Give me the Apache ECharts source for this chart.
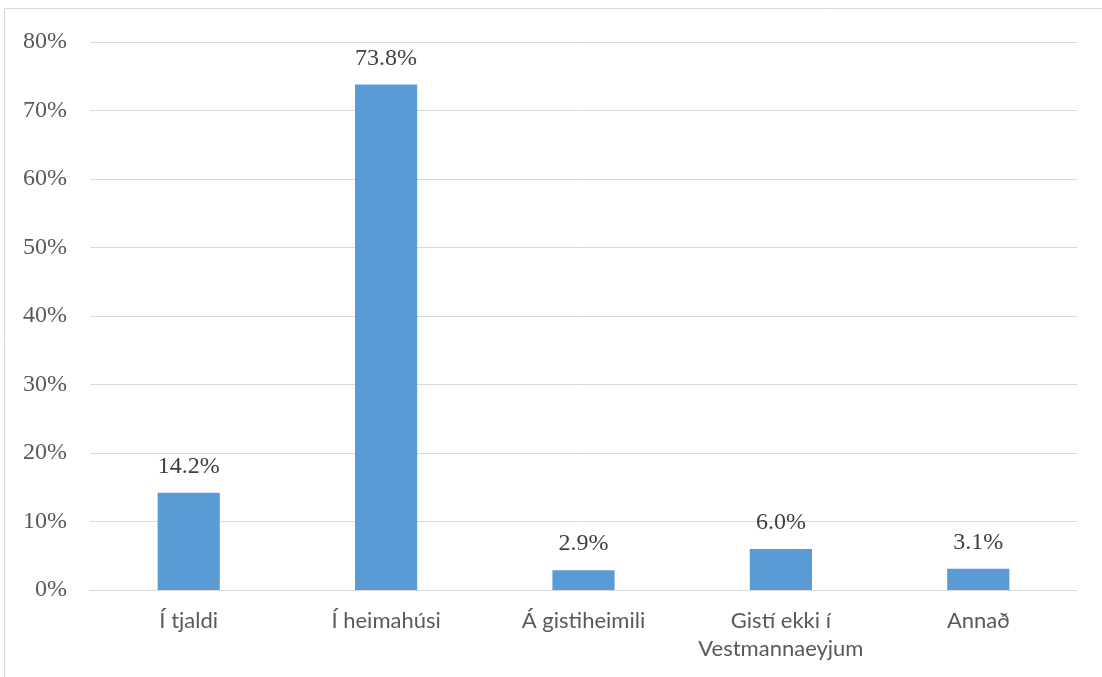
<!DOCTYPE html>
<html><head><meta charset="utf-8">
<script src="https://cdn.jsdelivr.net/npm/echarts@6/dist/echarts.min.js"></script>
<style>html,body{margin:0;padding:0;background:#fff}#c{width:1102px;height:677px}</style>
</head><body><div id="c"></div>
<script>
const categories = ['Í tjaldi', 'Í heimahúsi', 'Á gistiheimili', 'Gistí ekki í\nVestmannaeyjum', 'Annað'];
const values = [14.2, 73.8, 2.9, 6.0, 3.1];
const yTicks = [0, 10, 20, 30, 40, 50, 60, 70, 80];

const serif = '"Liberation Serif", "Times New Roman", serif';
const chart = echarts.init(document.getElementById('c'));
chart.setOption({
  animation: false,
  backgroundColor: '#fff',
  graphic: [{
    type: 'rect', silent: true, z: -1,
    shape: { x: 4.5, y: 8.5, width: 1200, height: 800 },
    style: { fill: 'none', stroke: '#d9d9d9', lineWidth: 1 }
  }],
  grid: { left: 90, right: 25, top: 42, bottom: 87 },
  xAxis: {
    type: 'category', data: categories,
    axisLine: { lineStyle: { color: '#d9d9d9', width: 1 } },
    axisTick: { show: false },
    axisLabel: { interval: 0, hideOverlap: false, color: '#595959', fontFamily: 'Lato', fontSize: 22, margin: 17, lineHeight: 28 }
  },
  yAxis: {
    type: 'value', min: yTicks[0], max: yTicks[yTicks.length - 1], interval: 10,
    axisLine: { show: false }, axisTick: { show: false },
    splitLine: { lineStyle: { color: '#d9d9d9', width: 1 } },
    axisLabel: { color: '#595959', fontFamily: serif, fontSize: 24, margin: 23, formatter: v => v + '%' }
  },
  series: [{
    type: 'bar', data: values, barWidth: '31.5%',
    itemStyle: { color: '#5B9BD5' },
    label: { show: true, position: 'top', distance: 14, color: '#404040', fontFamily: serif, fontSize: 24,
      formatter: p => p.value.toFixed(1) + '%' }
  }]
});
</script></body></html>
